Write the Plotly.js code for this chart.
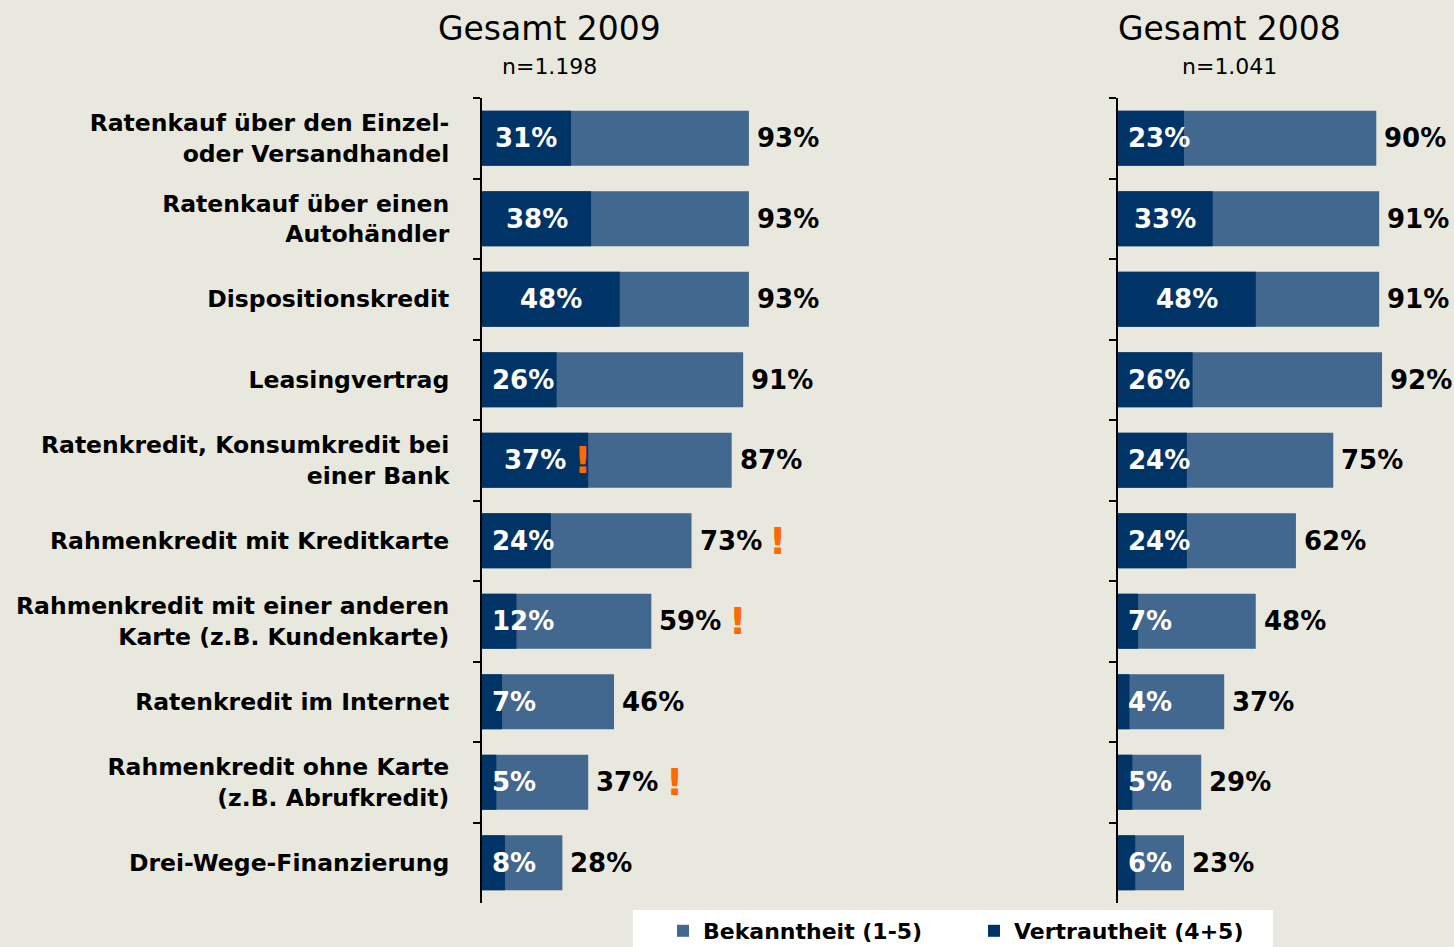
<!DOCTYPE html>
<html>
<head>
<meta charset="utf-8">
<script src="https://cdn.plot.ly/plotly-3.0.1.min.js"></script>
<style>
html,body{margin:0;padding:0;background:#E8E8DE;overflow:hidden;}
#chart{width:1454px;height:947px;}
</style>
</head>
<body>
<div id="chart"></div>
<script>
const categories = [
  "Ratenkauf über den Einzel-<br>oder Versandhandel",
  "Ratenkauf über einen<br>Autohändler",
  "Dispositionskredit",
  "Leasingvertrag",
  "Ratenkredit, Konsumkredit bei<br>einer Bank",
  "Rahmenkredit mit Kreditkarte",
  "Rahmenkredit mit einer anderen<br>Karte (z.B. Kundenkarte)",
  "Ratenkredit im Internet",
  "Rahmenkredit ohne Karte<br>(z.B. Abrufkredit)",
  "Drei-Wege-Finanzierung"
];
const bekanntheit2009 = [93, 93, 93, 91, 87, 73, 59, 46, 37, 28];
const vertrautheit2009 = [31, 38, 48, 26, 37, 24, 12, 7, 5, 8];
const bekanntheit2008 = [90, 91, 91, 92, 75, 62, 48, 37, 29, 23];
const vertrautheit2008 = [23, 33, 48, 26, 24, 24, 7, 4, 5, 6];
const flags2009 = ["", "", "", "", "inside", "outside", "outside", "", "outside", ""];
const flags2008 = ["", "", "", "", "", "", "", "", "", ""];
const panelTitles = ["Gesamt 2009", "Gesamt 2008"];
const panelSubtitles = ["n=1.198", "n=1.041"];
const seriesNames = ["Bekanntheit (1-5)", "Vertrautheit (4+5)"];

const W = 1454, H = 947;
const LIGHT = "#42688F", DARK = "#003467", ORANGE = "#FF6A00";
const FONT = "DejaVu Sans";
const px = v => v / W, py = v => 1 - v / H;

const leftDom = [px(482), px(769)];
const rightDom = [px(1118), px(1405)];
const yDom = [py(903), py(98)];
const pxPerUnit = 287 / 100;

function traces(bek, ver, xa, ya, show) {
  return [
    {type: "bar", orientation: "h", x: bek, y: categories, name: seriesNames[0],
     marker: {color: LIGHT}, xaxis: xa, yaxis: ya, showlegend: show, hoverinfo: "x+y"},
    {type: "bar", orientation: "h", x: ver, y: categories, name: seriesNames[1],
     marker: {color: DARK}, xaxis: xa, yaxis: ya, showlegend: show, hoverinfo: "x+y"}
  ];
}

const data = [
  ...traces(bekanntheit2009, vertrautheit2009, "x", "y", true),
  ...traces(bekanntheit2008, vertrautheit2008, "x2", "y2", false)
];

const annotations = [];
function panelLabels(bek, ver, flags, xr, yr) {
  categories.forEach((c, i) => {
    const v = ver[i];
    const txtW = (String(v).length === 1 ? 46 : 62);
    const barPx = v * pxPerUnit;
    if (barPx < txtW + 18) {
      annotations.push({xref: xr, yref: yr, x: 0, y: c, text: v + "%", showarrow: false,
        xanchor: "left", xshift: 8, yanchor: "middle",
        font: {family: FONT, size: 26, color: "#FFFFFF", weight: "bold"}});
    } else {
      annotations.push({xref: xr, yref: yr, x: v / 2, y: c, text: v + "%", showarrow: false,
        xanchor: "center", yanchor: "middle",
        font: {family: FONT, size: 26, color: "#FFFFFF", weight: "bold"}});
    }
    annotations.push({xref: xr, yref: yr, x: bek[i], y: c, text: bek[i] + "%", showarrow: false,
      xanchor: "left", xshift: 6, yanchor: "middle",
      font: {family: FONT, size: 26, color: "#000000", weight: "bold"}});
    if (flags[i] === "inside") {
      annotations.push({xref: xr, yref: yr, x: v, y: c, text: "!", showarrow: false,
        xanchor: "center", xshift: -6, yanchor: "middle",
        font: {family: FONT, size: 38, color: ORANGE, weight: "bold"}});
    } else if (flags[i] === "outside") {
      annotations.push({xref: xr, yref: yr, x: bek[i], y: c, text: "!", showarrow: false,
        xanchor: "center", xshift: 86, yanchor: "middle",
        font: {family: FONT, size: 38, color: ORANGE, weight: "bold"}});
    }
  });
}
panelLabels(bekanntheit2009, vertrautheit2009, flags2009, "x", "y");
panelLabels(bekanntheit2008, vertrautheit2008, flags2008, "x2", "y2");

[[549, 0], [1229, 1]].forEach(([cx, k]) => {
  annotations.push({xref: "paper", yref: "paper", x: px(cx), y: py(28), text: panelTitles[k],
    showarrow: false, xanchor: "center", yanchor: "middle",
    font: {family: FONT, size: 33, color: "#000000"}});
  annotations.push({xref: "paper", yref: "paper", x: px(cx), y: py(67), text: panelSubtitles[k],
    showarrow: false, xanchor: "center", yanchor: "middle",
    font: {family: FONT, size: 22, color: "#000000"}});
});

const yaxisBase = {
  domain: yDom, type: "category", range: [9.5, -0.5], autorange: false,
  showline: true, linecolor: "#000000", linewidth: 2,
  ticks: "outside", tickson: "boundaries", ticklen: 7, tickwidth: 2, tickcolor: "#000000",
  showgrid: false, zeroline: false, fixedrange: true
};

const layout = {
  width: W, height: H,
  margin: {l: 0, r: 0, t: 0, b: 0, autoexpand: false},
  paper_bgcolor: "#E8E8DE", plot_bgcolor: "rgba(0,0,0,0)",
  barmode: "overlay", bargap: 0.317,
  xaxis: {domain: leftDom, range: [0, 100], visible: false, fixedrange: true},
  xaxis2: {domain: rightDom, range: [0, 100], visible: false, fixedrange: true, anchor: "y2"},
  yaxis: Object.assign({}, yaxisBase, {anchor: "x",
    tickfont: {family: FONT, size: 23.5, color: "#000000", weight: "bold"},
    ticklabelstandoff: 26}),
  yaxis2: Object.assign({}, yaxisBase, {anchor: "x2", showticklabels: false}),
  showlegend: true,
  legend: {orientation: "h", x: px(663), y: py(931), xanchor: "left", yanchor: "middle",
    bgcolor: "rgba(0,0,0,0)", traceorder: "normal", entrywidth: 266, entrywidthmode: "pixels",
    font: {family: FONT, size: 22, color: "#000000", weight: "bold"}},
  shapes: [{type: "rect", xref: "paper", yref: "paper", x0: px(633), x1: px(1273),
    y0: py(947), y1: py(910), fillcolor: "#FFFFFF", line: {width: 0}, layer: "below"}],
  annotations: annotations,
  hovermode: false
};

Plotly.newPlot("chart", data, layout, {displayModeBar: false, staticPlot: true});
</script>
</body>
</html>
